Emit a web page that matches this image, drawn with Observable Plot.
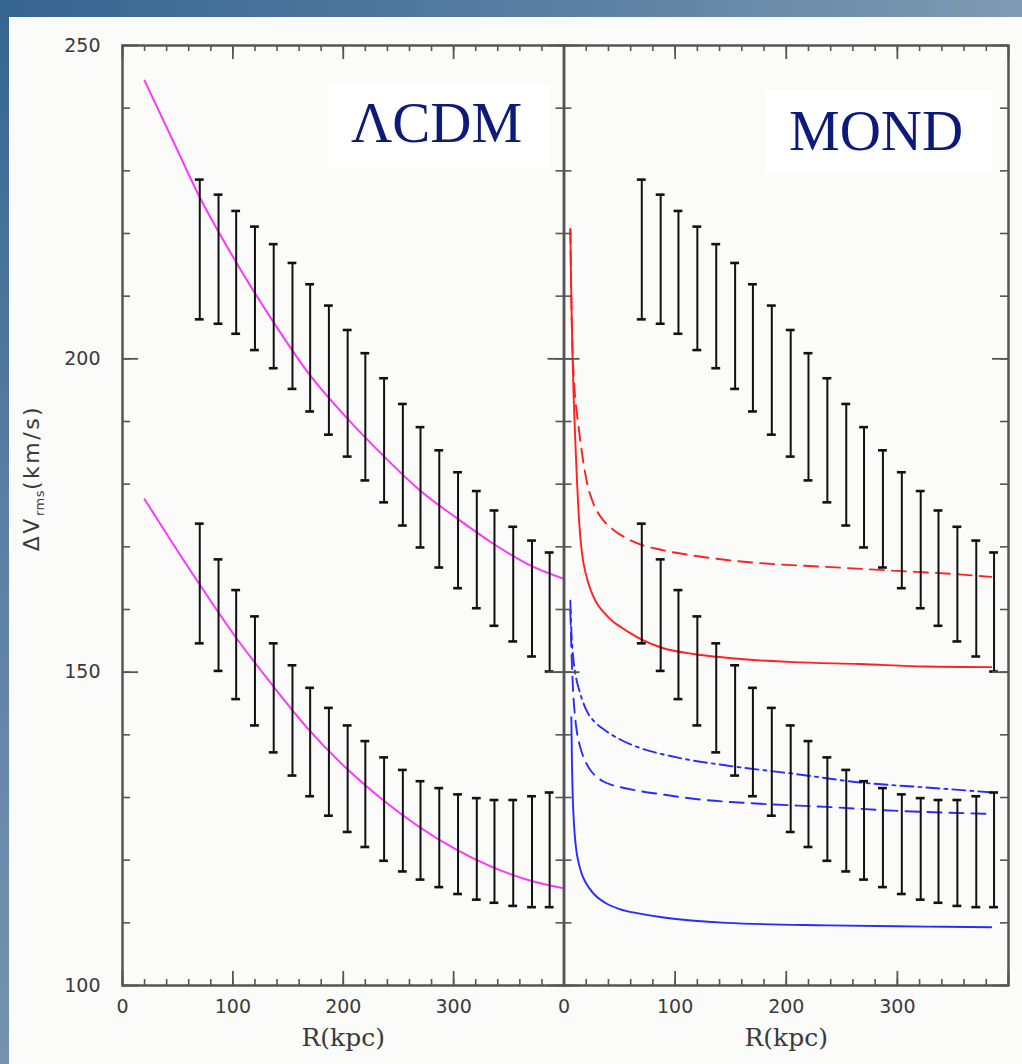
<!DOCTYPE html>
<html>
<head>
<meta charset="utf-8">
<script src="https://cdn.jsdelivr.net/npm/d3@7"></script>
<script src="https://cdn.jsdelivr.net/npm/@observablehq/plot@0.6"></script>
<style>
  html, body { margin: 0; padding: 0; background: #fbfcfa; }
  #wrap { position: relative; width: 1022px; height: 1064px; overflow: hidden; background: #fbfcfa; }
  #topband { position: absolute; left: 0; top: 0; width: 1022px; height: 17px; background: linear-gradient(to right, #366590, #5a7fa2 55%, #7f9ab2); }
  #leftband { position: absolute; left: 0; top: 0; width: 9px; height: 1064px; background: linear-gradient(to bottom, #366590, #5b80a3 50%, #7593af); }
  #wrap svg { position: absolute; top: 0; }
  .label-box { position: absolute; background: #ffffff; }
  .label-box span { position: absolute; font-family: "Liberation Serif", "Times New Roman", serif; font-size: 57px; color: #0c1a7c; white-space: nowrap; line-height: 1; }
  #ylab { position: absolute; left: 33px; top: 478px; transform: translate(-50%, -50%) rotate(-90deg); font-family: "DejaVu Sans", sans-serif; font-size: 22px; color: #3a3a3a; white-space: nowrap; letter-spacing: 2.5px; }
  #ylab sub { font-size: 13px; vertical-align: -5px; letter-spacing: 0.5px; }
</style>
</head>
<body>
<div id="wrap">
  <div id="topband"></div>
  <div id="leftband"></div>
</div>
<script>
// ---------- data ----------
const panels = ["ΛCDM", "MOND"];
const xTicks = [0, 100, 200, 300];
const yTicks = [100, 150, 200, 250];

// error-bar radii (kpc)
const R = [70, 87, 103, 120, 137, 154, 170, 187, 204, 220, 237, 254, 270, 287, 304, 321, 337, 354, 371, 387];
// upper data set (top / bottom of bars)
const upperHi = [228.6, 226.2, 223.6, 221.1, 218.3, 215.3, 211.9, 208.5, 204.6, 200.9, 196.9, 192.8, 189.1, 185.4, 181.9, 178.9, 175.8, 173.2, 171.0, 169.1];
const upperLo = [206.3, 205.6, 204.0, 201.4, 198.5, 195.2, 191.6, 187.9, 184.4, 180.6, 177.1, 173.4, 169.9, 166.7, 163.4, 160.2, 157.4, 154.9, 152.5, 150.1];
// lower data set
const lowerHi = [173.7, 168.0, 163.1, 158.9, 154.6, 151.1, 147.5, 144.3, 141.5, 139.0, 136.4, 134.4, 132.6, 131.5, 130.5, 129.9, 129.6, 129.6, 130.2, 130.8];
const lowerLo = [154.6, 150.2, 145.7, 141.5, 137.2, 133.5, 130.2, 127.1, 124.5, 122.1, 119.9, 118.2, 116.9, 115.7, 114.6, 113.7, 113.2, 112.7, 112.5, 112.5];

// ΛCDM model curves (magenta)
const lcdmUpperR = [20, 50, 68.5, 102, 135.9, 169, 202.5, 236, 269.6, 303.4, 336, 369.8, 400];
const lcdmUpperV = [244.4, 233.2, 226.3, 215.7, 206.1, 197.6, 190.7, 184.6, 179.0, 174.5, 170.5, 167.0, 164.9];
const lcdmLowerR = [20, 66.4, 100.5, 133.7, 166.9, 200.2, 234.6, 267.2, 301.3, 333.6, 368.3, 400];
const lcdmLowerV = [177.6, 164.9, 156.1, 148.4, 141.2, 135.1, 129.8, 125.5, 121.8, 119.0, 116.8, 115.5];

// MOND model curves
const redSolidR = [5.7, 6.3, 7, 7.7, 8.5, 9.5, 10.5, 11.7, 13.1, 14.7, 17, 19.5, 22.1, 26, 31, 37, 44, 52, 60, 70, 88, 116.5, 146.4, 206.3, 266.2, 326.1, 384.5];
const redSolidV = [220.7, 213, 206, 200.5, 195, 190, 185.5, 180.5, 175.5, 171.5, 168, 165.8, 164.1, 162.2, 160.6, 159.3, 158.1, 157.1, 156.2, 155.2, 153.9, 152.9, 152.3, 151.6, 151.3, 150.9, 150.8];
const redDashR = [5.7, 6.3, 7, 7.7, 8.5, 9.5, 10.5, 12.3, 14.5, 17, 20.4, 25, 30, 37, 46, 57, 70, 88, 116.5, 146.4, 176.4, 236.3, 296.1, 356, 384.5];
const redDashV = [220.7, 213, 206, 201.5, 198, 195, 193, 190.3, 187.2, 184, 180.5, 177.6, 175.6, 173.9, 172.5, 171.3, 170.3, 169.5, 168.6, 167.9, 167.4, 166.8, 166.2, 165.6, 165.2];
const blueDotDashR = [5.7, 6.5, 7.5, 8.6, 10, 11.5, 13.1, 16, 19, 22.1, 28, 37.1, 50, 67, 101.5, 146.4, 206.3, 266.2, 326.1, 386];
const blueDotDashV = [161.4, 157, 154, 151.8, 150, 148.6, 147.5, 145.8, 144.4, 143.3, 142.0, 140.7, 139.3, 138.0, 136.4, 135.1, 133.8, 132.4, 131.6, 130.8];
const blueDashR = [5.7, 6.5, 7.5, 8.6, 10, 11.5, 13.5, 16.2, 20, 24, 28.1, 35, 43, 52, 66, 88, 116.5, 176.4, 236.3, 296.1, 380];
const blueDashV = [159.8, 154.5, 149.5, 145.8, 142.8, 140.6, 138.8, 137.1, 135.5, 134.3, 133.5, 132.6, 132.0, 131.6, 131.1, 130.5, 129.8, 129.0, 128.5, 127.9, 127.4];
const blueSolidR = [6.6, 7.2, 7.8, 8.6, 9.6, 11, 13.1, 16, 19, 22.1, 28, 37, 50, 67, 88, 146, 236, 326, 384.5];
const blueSolidV = [142.8, 135, 130.5, 127, 124.2, 121.7, 119.6, 117.8, 116.6, 115.7, 114.4, 113.2, 112.2, 111.5, 110.9, 110.0, 109.6, 109.4, 109.3];

// ---------- tables ----------
const bars = R.flatMap((r, i) => [
  {R: r, lo: upperLo[i], hi: upperHi[i]},
  {R: r, lo: lowerLo[i], hi: lowerHi[i]}
]);
const pts = (Rs, Vs) => Rs.map((r, i) => ({R: r, v: Vs[i]}));

const MAGENTA = "#ff33ff", RED = "#ff2020", BLUE = "#2a2aff";
const curvesLCDM = [
  {pts: pts(lcdmUpperR, lcdmUpperV), color: MAGENTA, dash: null},
  {pts: pts(lcdmLowerR, lcdmLowerV), color: MAGENTA, dash: null}
];
const curvesMOND = [
  {pts: pts(redDashR, redDashV), color: RED, dash: "14,8"},
  {pts: pts(redSolidR, redSolidV), color: RED, dash: null},
  {pts: pts(blueDotDashR, blueDotDashV), color: BLUE, dash: "13,5,3,5"},
  {pts: pts(blueDashR, blueDashV), color: BLUE, dash: "14,8"},
  {pts: pts(blueSolidR, blueSolidV), color: BLUE, dash: null}
];

const xMinor = d3.range(0, 401, 20);
const xMajor = d3.range(0, 401, 100);
const yMinor = d3.range(100, 251, 10);
const yMajor = d3.range(100, 251, 50);

const H = 1064, MT = 45, MB = 79;
const innerH = H - MT - MB;
const AX = "#555";

function panel({width, marginLeft, marginRight, curves, showY}) {
  const innerW = width - marginLeft - marginRight;
  const marks = [
    ...curves.map(c => Plot.line(c.pts, {x: "R", y: "v", stroke: c.color, strokeWidth: 1.9, strokeDasharray: c.dash, curve: "monotone-x"})),
    Plot.ruleX(bars, {x: "R", y1: "lo", y2: "hi", stroke: "#111", strokeWidth: 2}),
    Plot.ruleY(bars, {y: "hi", x1: d => d.R - 4, x2: d => d.R + 4, stroke: "#111", strokeWidth: 2.6}),
    Plot.ruleY(bars, {y: "lo", x1: d => d.R - 4, x2: d => d.R + 4, stroke: "#111", strokeWidth: 2.6}),
    // inward ticks, all four sides
    Plot.tickX(xMinor, {x: d => d, insetTop: innerH - 6, stroke: AX, strokeWidth: 1.6}),
    Plot.tickX(xMinor, {x: d => d, insetBottom: innerH - 6, stroke: AX, strokeWidth: 1.6}),
    Plot.tickX(xMajor, {x: d => d, insetTop: innerH - 14, stroke: AX, strokeWidth: 1.8}),
    Plot.tickX(xMajor, {x: d => d, insetBottom: innerH - 14, stroke: AX, strokeWidth: 1.8}),
    Plot.tickY(yMinor, {y: d => d, insetRight: innerW - 8, stroke: AX, strokeWidth: 1.6}),
    Plot.tickY(yMinor, {y: d => d, insetLeft: innerW - 8, stroke: AX, strokeWidth: 1.6}),
    Plot.tickY(yMajor, {y: d => d, insetRight: innerW - 16, stroke: AX, strokeWidth: 1.8}),
    Plot.tickY(yMajor, {y: d => d, insetLeft: innerW - 16, stroke: AX, strokeWidth: 1.8}),
    Plot.frame({stroke: AX, strokeWidth: 2.5}),
    Plot.axisX(xTicks, {tickSize: 0, tickPadding: 14, fontSize: 19, fontFamily: "DejaVu Sans", fill: "#3a3a3a", label: null}),
    Plot.text(["R(kpc)"], {frameAnchor: "bottom", dy: 60, fontSize: 25, fontFamily: "DejaVu Serif", fill: "#3a3a3a", text: d => d})
  ];
  if (showY) marks.push(Plot.axisY(yTicks, {tickSize: 0, tickPadding: 22, fontSize: 19, fontFamily: "DejaVu Sans", fill: "#3a3a3a", label: null}));
  return Plot.plot({
    width, height: H,
    marginTop: MT, marginBottom: MB, marginLeft, marginRight,
    x: {domain: [0, 400], axis: null},
    y: {domain: [100, 250], axis: null},
    style: {background: "transparent", overflow: "visible"},
    marks
  });
}

const wrap = document.getElementById("wrap");
const left = panel({width: 570, marginLeft: 122, marginRight: 6.5, curves: curvesLCDM, showY: true});
left.style.left = "0px";
const right = panel({width: 465, marginLeft: 6.5, marginRight: 14, curves: curvesMOND, showY: false});
right.style.left = "557px";
wrap.appendChild(left);
wrap.appendChild(right);

// panel labels
const boxes = [
  {text: panels[0], x: 328, y: 84, w: 222, h: 84, tx: 23, ty: 10},
  {text: panels[1], x: 765, y: 90, w: 227, h: 83, tx: 24, ty: 12}
];
for (const b of boxes) {
  const div = document.createElement("div");
  div.className = "label-box";
  Object.assign(div.style, {left: b.x + "px", top: b.y + "px", width: b.w + "px", height: b.h + "px"});
  const s = document.createElement("span");
  s.textContent = b.text;
  Object.assign(s.style, {left: b.tx + "px", top: b.ty + "px"});
  div.appendChild(s);
  wrap.appendChild(div);
}

// y-axis title
const yl = document.createElement("div");
yl.id = "ylab";
yl.innerHTML = "ΔV<sub>rms</sub>(km/s)";
wrap.appendChild(yl);
</script>
</body>
</html>
